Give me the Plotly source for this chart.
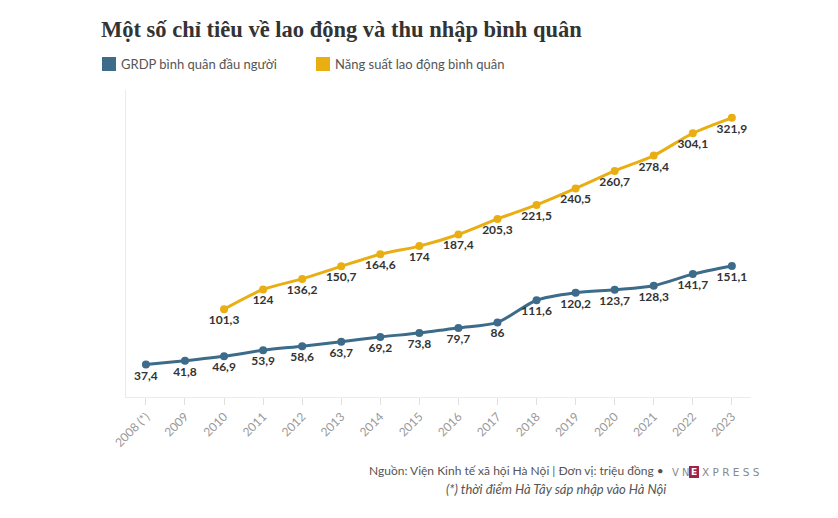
import plotly.graph_objects as go

years = ["2008 (*)", "2009", "2010", "2011", "2012", "2013", "2014", "2015",
         "2016", "2017", "2018", "2019", "2020", "2021", "2022", "2023"]
grdp = [37.4, 41.8, 46.9, 53.9, 58.6, 63.7, 69.2, 73.8, 79.7, 86,
        111.6, 120.2, 123.7, 128.3, 141.7, 151.1]
nsld = [None, None, 101.3, 124, 136.2, 150.7, 164.6, 174, 187.4, 205.3,
        221.5, 240.5, 260.7, 278.4, 304.1, 321.9]

BLUE = "#3d6b8a"
GOLD = "#e9ae12"

# page offset (browser body margin) compensation
OFF = 8
W, H = 838 - 2 * OFF, 518 - 2 * OFF
PL, PR, PT, PB = 126, 751, 90, 397  # plot area in page pixels


def px(x):
    return (x - PL) / (PR - PL)


def py(y):
    return (PB - y) / (PB - PT)


def fmt(v):
    return "" if v is None else f"{v:g}".replace(".", ",")


xs = list(range(len(years)))
fig = go.Figure()
for vals, col, name in [(nsld, GOLD, "Năng suất lao động bình quân"),
                        (grdp, BLUE, "GRDP bình quân đầu người")]:
    fig.add_trace(go.Scatter(
        x=xs, y=vals, name=name, mode="lines+markers+text",
        line=dict(color=col, width=3, shape="spline", smoothing=0.8),
        marker=dict(color=col, size=8),
        text=[fmt(v) for v in vals], textposition="bottom center",
        textfont=dict(family="Lato", size=12, color="#333", weight="bold"),
        showlegend=False, cliponaxis=False, hoverinfo="skip"))

fig.update_layout(
    width=W, height=H,
    margin=dict(l=PL - OFF, r=W - (PR - OFF), t=PT - OFF, b=H - (PB - OFF),
                autoexpand=False),
    plot_bgcolor="white", paper_bgcolor="white",
    font=dict(family="Lato", color="#555"),
    xaxis=dict(range=[-0.51, 15.49], tickvals=xs, ticktext=years, tickangle=-45,
               showgrid=False, zeroline=False, showline=True, linecolor="#ebebeb",
               ticks="outside", ticklen=7, tickcolor="#e0e0e0",
               tickfont=dict(size=12, color="#999")),
    yaxis=dict(range=[0, 354], showgrid=False, zeroline=False, showticklabels=False,
               showline=True, linecolor="#ebebeb"),
)

ann = []
ann.append(dict(text="<b>Một số chỉ tiêu về lao động và thu nhập bình quân</b>",
                x=99, y=30, font=dict(family="Liberation Serif", size=22.5, color="#333"),
                xanchor="left"))
for x0, col, lab in [(102, BLUE, "GRDP bình quân đầu người"),
                     (316, GOLD, "Năng suất lao động bình quân")]:
    fig.add_shape(type="rect", xref="paper", yref="paper",
                  x0=px(x0), x1=px(x0 + 14), y0=py(71), y1=py(57),
                  fillcolor=col, line=dict(width=0), layer="above")
    ann.append(dict(text=lab, x=x0 + 17, y=64, xanchor="left",
                    font=dict(size=13, color="#555")))
ann.append(dict(text="Nguồn: Viện Kinh tế xã hội Hà Nội | Đơn vị: triệu đồng •",
                x=666, y=470, xanchor="right", font=dict(size=12, color="#555")))
ann.append(dict(text="V N", x=670, y=472, xanchor="left",
                font=dict(family="DejaVu Sans", size=10, color="#888")))
ann.append(dict(text="X P R E S S", x=700, y=472, xanchor="left",
                font=dict(family="DejaVu Sans", size=10.5, color="#888")))
ann.append(dict(text="<b>E</b>", x=694, y=472.5, xanchor="center",
                font=dict(family="DejaVu Sans", size=9, color="white")))
fig.add_shape(type="rect", xref="paper", yref="paper",
              x0=px(689), x1=px(699), y0=py(478), y1=py(466),
              fillcolor="#9f224e", line=dict(width=0), layer="below")
ann.append(dict(text="<i>(*) thời điểm Hà Tây sáp nhập vào Hà Nội</i>",
                x=668, y=489, xanchor="right", font=dict(size=13, color="#555")))

for a in ann:
    a.update(xref="paper", yref="paper", showarrow=False, yanchor="middle")
    a["x"] = px(a["x"])
    a["y"] = py(a["y"])
fig.update_layout(annotations=ann)

fig.write_html("out.html")
